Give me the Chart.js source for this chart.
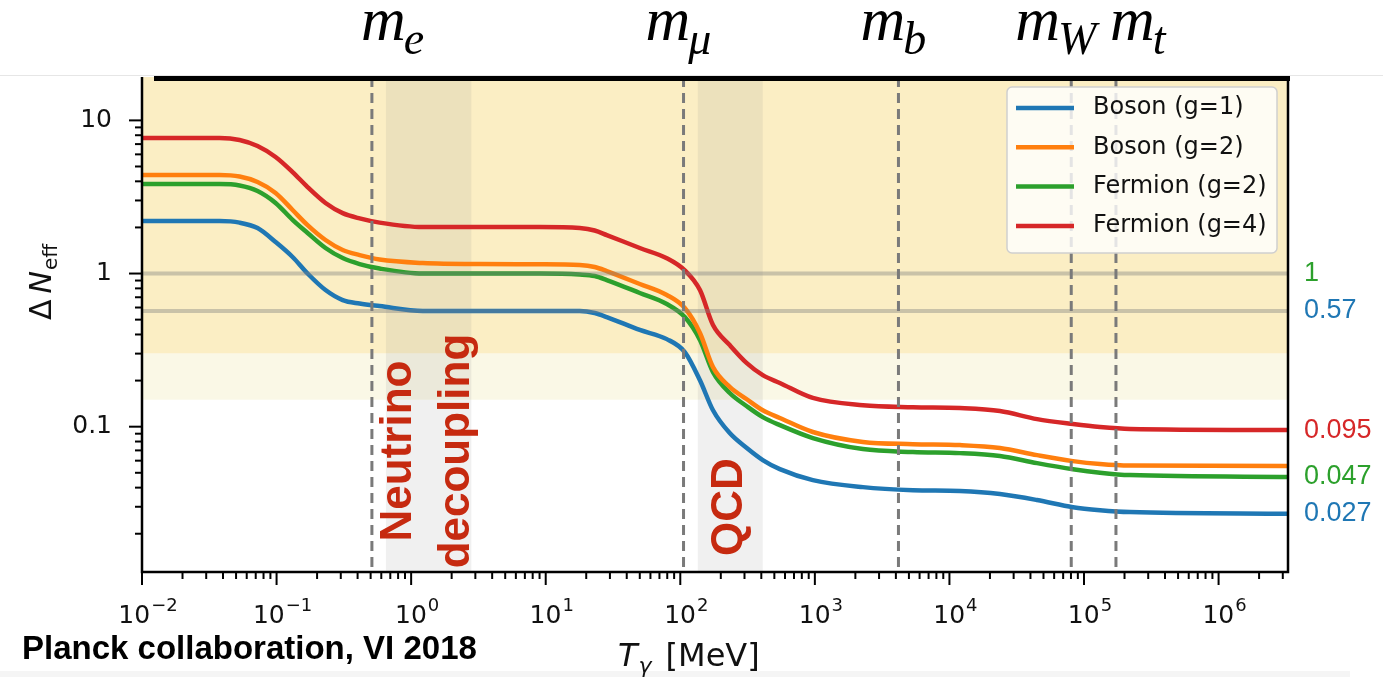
<!DOCTYPE html>
<html lang="en">
<head>
<meta charset="UTF-8">
<title>ΔN_eff vs photon temperature</title>
<script src="https://cdn.jsdelivr.net/npm/chart.js@4/dist/chart.umd.min.js"></script>
<style>
  body { margin: 0; background: #fff; }
  #wrap { width: 1383px; height: 677px; }
</style>
</head>
<body>
<div id="wrap"><canvas id="neff" width="1383" height="677"></canvas></div>
<script>
// photon temperature grid (MeV) shared by all four curves
const temps = [0.01, 0.0377, 0.0531, 0.0722, 0.0983, 0.1315, 0.170, 0.231, 0.31, 0.414,
               0.583, 1.22, 3.23, 9.02, 17.9, 23.1, 28.4, 50.0, 79.4, 108,
               140, 175, 233, 312, 410, 549, 966, 2275, 5355, 11970,
               23740, 44800, 82800, 131500, 219800, 3.28e6];

const bosonG1 = [2.20, 2.20, 2.15, 1.98, 1.606, 1.282, 1.0, 0.78, 0.671, 0.637,
                 0.613, 0.57, 0.57, 0.57, 0.569, 0.552, 0.520, 0.428, 0.373, 0.307,
                 0.201, 0.128, 0.0908, 0.0725, 0.0605, 0.0528, 0.0448, 0.0403, 0.0385, 0.0380,
                 0.0363, 0.0332, 0.0298, 0.0285, 0.0277, 0.027];
const bosonG2 = [4.40, 4.40, 4.30, 3.96, 3.36, 2.60, 2.07, 1.655, 1.424, 1.32,
                 1.234, 1.171, 1.153, 1.15, 1.137, 1.103, 1.038, 0.854, 0.724, 0.595,
                 0.409, 0.245, 0.182, 0.151, 0.128, 0.114, 0.0923, 0.0795, 0.0769, 0.0758,
                 0.0725, 0.0652, 0.0596, 0.0570, 0.0557, 0.0553];
const fermionG2 = [3.84, 3.84, 3.76, 3.46, 2.89, 2.24, 1.84, 1.468, 1.262, 1.153,
                   1.078, 1.0, 1.0, 1.0, 0.985, 0.963, 0.907, 0.746, 0.632, 0.52,
                   0.368, 0.227, 0.166, 0.136, 0.1155, 0.1024, 0.0843, 0.0714, 0.0683, 0.0672,
                   0.0643, 0.0578, 0.0528, 0.0501, 0.0483, 0.047];
const fermionG4 = [7.67, 7.67, 7.45, 6.80, 5.77, 4.60, 3.67, 2.89, 2.48, 2.29,
                   2.15, 2.01, 2.01, 2.01, 1.98, 1.91, 1.784, 1.468, 1.26, 1.05,
                   0.78, 0.461, 0.341, 0.260, 0.217, 0.193, 0.154, 0.138, 0.134, 0.1323,
                   0.1265, 0.112, 0.104, 0.0994, 0.0965, 0.095];

const seriesLabels = ['Boson (g=1)', 'Boson (g=2)', 'Fermion (g=2)', 'Fermion (g=4)'];
const seriesValues = [bosonG1, bosonG2, fermionG2, fermionG4];
const seriesColors = ['#1f77b4', '#ff7f0e', '#2ca02c', '#d62728'];

// particle masses (MeV) marked with dashed lines
const massNames = ['e', 'μ', 'b', 'W', 't'];
const massValues = [0.511, 105.7, 4180, 80379, 172760];

// Planck bounds: strong band above 0.3, weaker one down to 0.15
const bandEdges = [0.3, 0.15];
const refLines = [1, 0.57];

// shaded transitions [from, to] in MeV
const transitions = [[0.65, 2.8], [135, 410]];
const transitionNames = [['Neutrino', 'decoupling'], ['QCD']];

// asymptotic values written right of the plot
const edgeValues = [1, 0.57, 0.095, 0.047, 0.027];
const edgeColors = ['#2ca02c', '#1f77b4', '#d62728', '#2ca02c', '#1f77b4'];

const xRange = [0.01, 3.28e6];
const yRange = [0.01125, 19.2];

function decadeOf(v) {
    const e = Math.round(Math.log10(v));
    return Math.abs(Math.log10(v) - e) < 1e-9 ? e : null;
}

// 1..9 x 10^n ticks, like matplotlib's log locator
function decadeTicks(scale) {
    const out = [];
    const lo = Math.floor(Math.log10(scale.min));
    const hi = Math.ceil(Math.log10(scale.max));
    for (let e = lo; e <= hi; e++) {
        for (let m = 1; m <= 9; m++) {
            const v = Number((m * Math.pow(10, e)).toPrecision(3));
            if (v >= scale.min * 0.999 && v <= scale.max * 1.001) out.push({ value: v, major: m === 1 });
        }
    }
    scale.ticks = out;
}

function drawRuns(ctx, x, y, runs, align) {
    let w = 0;
    runs.forEach(r => { ctx.font = r.font; r.w = ctx.measureText(r.text).width; w += r.w + (r.gap || 0); });
    let cx = align === 'center' ? x - w / 2 : x;
    runs.forEach(r => {
        ctx.font = r.font;
        ctx.fillText(r.text, cx, y + (r.dy || 0));
        cx += r.w + (r.gap || 0);
    });
}

// horizontal nudges for the mass labels so neighbours do not collide
const massLabelNudge = [-11, -38, -38, -56, -6];

const decor = {
    id: 'decor',
    beforeDatasetsDraw(chart) {
        const { ctx, chartArea: a, scales: { x, y } } = chart;
        ctx.save();
        ctx.beginPath();
        ctx.rect(a.left, a.top, a.width, a.height);
        ctx.clip();
        const yStrong = y.getPixelForValue(bandEdges[0]);
        const yWeak = y.getPixelForValue(bandEdges[1]);
        ctx.fillStyle = '#fbeec4';
        ctx.fillRect(a.left, a.top, a.width, yStrong - a.top);
        ctx.fillStyle = '#faf8e6';
        ctx.fillRect(a.left, yStrong, a.width, yWeak - yStrong);
        ctx.fillStyle = 'rgba(128,128,128,0.12)';
        transitions.forEach(([lo, hi]) => {
            const x0 = x.getPixelForValue(lo), x1 = x.getPixelForValue(hi);
            ctx.fillRect(x0, a.top, x1 - x0, a.height);
        });
        ctx.restore();
    },
    afterDatasetsDraw(chart) {
        const { ctx, chartArea: a, scales: { x, y } } = chart;
        ctx.save();
        ctx.beginPath();
        ctx.rect(a.left, a.top, a.width, a.height);
        ctx.clip();

        // reference levels 1 and 0.57
        ctx.strokeStyle = 'rgba(128,128,128,0.4)';
        ctx.lineWidth = 4;
        refLines.forEach(v => {
            const py = y.getPixelForValue(v);
            ctx.beginPath(); ctx.moveTo(a.left, py); ctx.lineTo(a.right, py); ctx.stroke();
        });

        // dashed mass thresholds
        ctx.strokeStyle = '#7a7a7a';
        ctx.lineWidth = 3;
        ctx.setLineDash([10, 6]);
        massValues.forEach(m => {
            const px = x.getPixelForValue(m);
            ctx.beginPath(); ctx.moveTo(px, a.top); ctx.lineTo(px, a.bottom); ctx.stroke();
        });
        ctx.setLineDash([]);

        // transition names, rotated
        ctx.fillStyle = '#c62a10';
        ctx.font = 'bold 44px "Liberation Sans", Arial, sans-serif';
        ctx.textBaseline = 'middle';
        ctx.textAlign = 'center';
        const nx0 = x.getPixelForValue(transitions[0][0]), nx1 = x.getPixelForValue(transitions[0][1]);
        const ncx = (nx0 + nx1) / 2;
        transitionNames[0].forEach((line, i) => {
            ctx.save();
            ctx.translate(ncx - 30 + i * 58, a.bottom - 121);
            ctx.rotate(-Math.PI / 2);
            ctx.fillText(line, 0, 0);
            ctx.restore();
        });
        const qx0 = x.getPixelForValue(transitions[1][0]), qx1 = x.getPixelForValue(transitions[1][1]);
        ctx.save();
        ctx.translate((qx0 + qx1) / 2, a.bottom - 65);
        ctx.rotate(-Math.PI / 2);
        ctx.fillText(transitionNames[1][0], 0, 0);
        ctx.restore();

        // legend box
        const bx = a.right - 281, by = a.top + 10, bw = 270, bh = 166;
        ctx.fillStyle = 'rgba(255,255,255,0.8)';
        ctx.strokeStyle = '#cfcfcf';
        ctx.lineWidth = 1.5;
        ctx.beginPath();
        ctx.roundRect(bx, by, bw, bh, 5);
        ctx.fill();
        ctx.stroke();
        ctx.font = '24px "DejaVu Sans", sans-serif';
        ctx.textAlign = 'left';
        ctx.textBaseline = 'middle';
        chart.data.datasets.forEach((ds, i) => {
            const ry = by + 21 + i * 39.3;
            ctx.strokeStyle = ds.borderColor;
            ctx.lineWidth = 4.5;
            ctx.beginPath(); ctx.moveTo(bx + 9, ry); ctx.lineTo(bx + 67, ry); ctx.stroke();
            ctx.fillStyle = '#111';
            ctx.fillText(ds.label, bx + 86, ry);
        });
        ctx.restore();
    },
    afterDraw(chart) {
        const { ctx, chartArea: a, scales: { x, y } } = chart;
        ctx.save();

        // spines
        ctx.strokeStyle = '#000';
        ctx.lineWidth = 2.5;
        ctx.beginPath();
        ctx.moveTo(a.left, a.top); ctx.lineTo(a.left, a.bottom); ctx.lineTo(a.right, a.bottom); ctx.lineTo(a.right, a.top);
        ctx.stroke();

        // tick marks from the library's ticks
        ctx.lineWidth = 2;
        x.ticks.forEach(t => {
            const px = x.getPixelForValue(t.value);
            const len = decadeOf(t.value) !== null ? 13 : 7;
            ctx.beginPath(); ctx.moveTo(px, a.bottom); ctx.lineTo(px, a.bottom + len); ctx.stroke();
        });
        y.ticks.forEach(t => {
            const py = y.getPixelForValue(t.value);
            const len = decadeOf(t.value) !== null ? 13 : 7;
            ctx.beginPath(); ctx.moveTo(a.left, py); ctx.lineTo(a.left - len, py); ctx.stroke();
        });

        // x tick labels as 10 with a raised exponent
        ctx.fillStyle = '#111';
        ctx.textBaseline = 'alphabetic';
        x.ticks.forEach(t => {
            const e = decadeOf(t.value);
            if (e === null) return;
            drawRuns(ctx, x.getPixelForValue(t.value) + 6, a.bottom + 51, [
                { text: '10', font: '25px "DejaVu Sans", sans-serif', gap: 1 },
                { text: String(e).replace('-', '−'), font: '18px "DejaVu Sans", sans-serif', dy: -12 }
            ], 'center');
        });

        // header rule across the top
        ctx.fillStyle = '#e6e6e6';
        ctx.fillRect(0, a.top - 2, chart.width, 1);
        ctx.fillStyle = '#000';
        ctx.fillRect(a.left + 12, a.top - 1, a.right - a.left - 10, 5);

        // faint strip along the bottom edge
        ctx.fillStyle = '#f5f5f5';
        ctx.fillRect(0, chart.height - 6, 1350, 6);

        // mass labels above the plot
        ctx.fillStyle = '#000';
        ctx.textAlign = 'left';
        massNames.forEach((n, i) => {
            const px = x.getPixelForValue(massValues[i]) + massLabelNudge[i];
            drawRuns(ctx, px, 40, [
                { text: 'm', font: 'italic 62px "Liberation Serif", serif', gap: -2 },
                { text: n, font: 'italic 46px "Liberation Serif", serif', dy: 14 }
            ]);
        });

        // asymptotic values on the right
        ctx.font = '27px "Liberation Sans", Arial, sans-serif';
        ctx.textBaseline = 'middle';
        edgeValues.forEach((v, i) => {
            ctx.fillStyle = edgeColors[i];
            ctx.fillText(String(v), a.right + 16, y.getPixelForValue(v));
        });

        // axis titles
        ctx.fillStyle = '#111';
        ctx.textBaseline = 'alphabetic';
        ctx.save();
        ctx.translate(40, 282);
        ctx.rotate(-Math.PI / 2);
        drawRuns(ctx, 0, 11, [
            { text: 'Δ', font: '30px "DejaVu Sans", sans-serif', gap: 6 },
            { text: 'N', font: 'italic 30px "DejaVu Sans", sans-serif', gap: 1 },
            { text: 'eff', font: '20px "DejaVu Sans", sans-serif', dy: 6 }
        ], 'center');
        ctx.restore();
        drawRuns(ctx, 618, 666, [
            { text: 'T', font: 'italic 32px "DejaVu Sans", sans-serif', gap: 1 },
            { text: 'γ', font: 'italic 22px "DejaVu Sans", sans-serif', dy: 7, gap: 14 },
            { text: '[MeV]', font: '32px "DejaVu Sans", sans-serif' }
        ]);

        ctx.fillStyle = '#000';
        ctx.font = 'bold 33px "Liberation Sans", Arial, sans-serif';
        ctx.fillText('Planck collaboration, VI 2018', 22, 659);
        ctx.restore();
    }
};

const datasets = seriesLabels.map((label, i) => ({
    label: label,
    data: temps.map((t, k) => ({ x: t, y: seriesValues[i][k] })),
    borderColor: seriesColors[i],
    backgroundColor: seriesColors[i],
    borderWidth: 4.5,
    pointRadius: 0,
    fill: false,
    cubicInterpolationMode: 'monotone'
}));

new Chart(document.getElementById('neff'), {
    type: 'line',
    data: { datasets: datasets },
    options: {
        responsive: false,
        animation: false,
        devicePixelRatio: 1,
        layout: { padding: { left: 0, top: 77, right: 95, bottom: 0 } },
        plugins: { legend: { display: false }, tooltip: { enabled: false } },
        scales: {
            x: {
                type: 'logarithmic',
                min: xRange[0],
                max: xRange[1],
                grid: { display: false, drawTicks: false },
                border: { display: false },
                afterBuildTicks: decadeTicks,
                afterFit: s => { s.height = 105; },
                ticks: { display: false, autoSkip: false }
            },
            y: {
                type: 'logarithmic',
                min: yRange[0],
                max: yRange[1],
                grid: { display: false, drawTicks: false },
                border: { display: false },
                afterBuildTicks: decadeTicks,
                afterFit: s => { s.width = 142; },
                ticks: {
                    autoSkip: false,
                    padding: 30,
                    color: '#111',
                    font: { family: '"DejaVu Sans", sans-serif', size: 25 },
                    callback: v => decadeOf(v) === null ? '' : String(Number(v.toPrecision(1)))
                }
            }
        }
    },
    plugins: [decor]
});
</script>
</body>
</html>
